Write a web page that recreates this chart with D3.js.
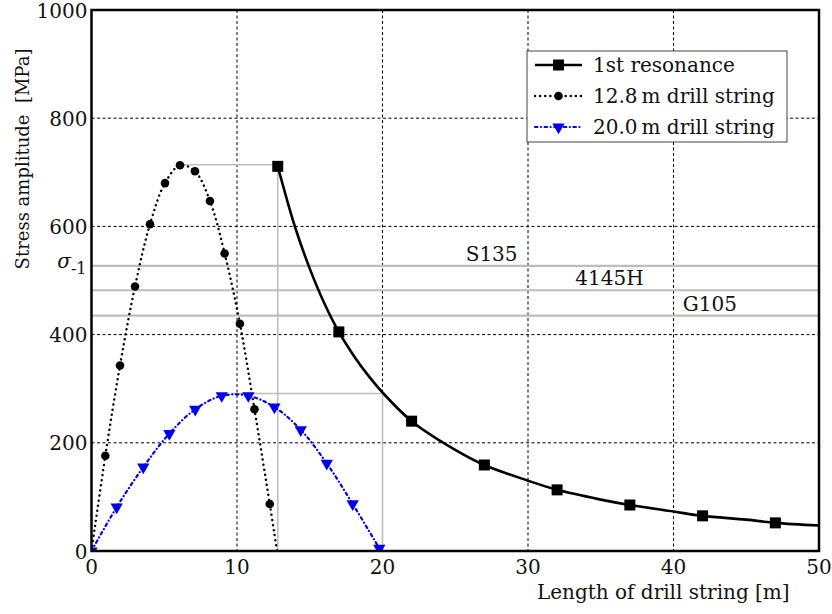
<!DOCTYPE html>
<html>
<head>
<meta charset="utf-8">
<title>Stress amplitude vs length of drill string</title>
<style>
  body { margin: 0; background: #fff; }
  text { font-family: "DejaVu Serif", "Liberation Serif", serif; fill: #111; }
  .grid line { stroke: #000; stroke-width: 1; stroke-dasharray: 3,2.5; }
  .limit { stroke: #bdbdbd; stroke-width: 2.2; }
  .guide { stroke: #bdbdbd; stroke-width: 1.6; }
  .line { fill: none; }
</style>
</head>
<body>
<svg width="832" height="614"></svg>
<script src="https://cdn.jsdelivr.net/npm/d3@7/dist/d3.min.js"></script>
<script>
// 1st resonance: markers and the smooth curve through read points
var resX = [12.8, 17, 22, 27, 32, 37, 42, 47];
var resY = [711, 405, 240, 159, 113, 85, 65, 52];
var resCurveX = [12.8, 14, 15, 16, 17, 18, 19, 20, 22, 25, 27, 30, 32, 35, 37, 40, 42, 45, 47, 50];
var resCurveY = [711, 598, 522, 458, 405, 362, 325, 293, 240, 187, 159, 130, 113, 95, 85, 73, 65, 58, 52, 47];

// 12.8 m drill string
var s128X = [0.95, 1.96, 2.99, 4.02, 5.05, 6.08, 7.11, 8.14, 9.15, 10.2, 11.2, 12.25];
var s128Y = [176, 343, 489, 604, 680, 713, 702, 647, 550, 420, 262, 87];
var s128Start = [0, 0], s128End = [12.75, 0];

// 20.0 m drill string
var s200X = [0, 1.73, 3.56, 5.35, 7.13, 8.95, 10.78, 12.57, 14.38, 16.17, 17.95, 19.78];
var s200Y = [0, 81, 155, 217, 262, 287, 287, 266, 224, 162, 87, 5];

// material limits
var limitNames = ["S135", "4145H", "G105"];
var limitValues = [527, 482, 435];
var limitLabelX = [27.5, 35.6, 42.5];

// gray guide lines from the peaks
var guides = [
  {x1: 6.08, y1: 714, x2: 12.8, y2: 714},
  {x1: 12.8, y1: 714, x2: 12.8, y2: 0},
  {x1: 9.6, y1: 291, x2: 20, y2: 291},
  {x1: 20, y1: 291, x2: 20, y2: 0}
];

var xTicks = [0, 10, 20, 30, 40, 50];
var yTicks = [0, 200, 400, 600, 800, 1000];

var svg = d3.select("svg"),
    margin = {top: 10, left: 91.5, right: 13, bottom: 63},
    width = +svg.attr("width") - margin.left - margin.right,
    height = +svg.attr("height") - margin.top - margin.bottom;

var x = d3.scaleLinear().domain([0, 50]).range([0, width]);
var y = d3.scaleLinear().domain([0, 1000]).range([height, 0]);

var g = svg.append("g").attr("transform", "translate(" + margin.left + "," + margin.top + ")");

svg.append("defs").append("clipPath").attr("id", "plotclip")
  .append("rect").attr("width", width).attr("height", height);

// grid
var grid = g.append("g").attr("class", "grid");
grid.selectAll(".gx").data([10, 20, 30, 40]).enter().append("line")
  .attr("x1", d => x(d)).attr("x2", d => x(d)).attr("y1", 0).attr("y2", height);
grid.selectAll(".gy").data([200, 400, 600, 800]).enter().append("line")
  .attr("y1", d => y(d)).attr("y2", d => y(d)).attr("x1", 0).attr("x2", width);

var plot = g.append("g").attr("clip-path", "url(#plotclip)");

// limit lines
plot.selectAll(".limit").data(limitValues).enter().append("line")
  .attr("class", "limit")
  .attr("x1", 0).attr("x2", width)
  .attr("y1", d => y(d)).attr("y2", d => y(d));

g.selectAll(".limitLabel").data(limitNames).enter().append("text")
  .attr("x", (d, i) => x(limitLabelX[i]))
  .attr("y", (d, i) => y(limitValues[i]) - 5)
  .attr("text-anchor", "middle")
  .style("font-size", "20px")
  .text(d => d);

// guide lines
plot.selectAll(".guide").data(guides).enter().append("line")
  .attr("class", "guide")
  .attr("x1", d => x(d.x1)).attr("y1", d => y(d.y1))
  .attr("x2", d => x(d.x2)).attr("y2", d => y(d.y2));

var line = d3.line()
  .x(d => x(d[0])).y(d => y(d[1]))
  .curve(d3.curveCatmullRom.alpha(0.5));

// 12.8 m
var s128Pts = [s128Start].concat(s128X.map((v, i) => [v, s128Y[i]])).concat([s128End]);
plot.append("path").attr("class", "line")
  .attr("d", line(s128Pts))
  .attr("stroke", "#000").attr("stroke-width", 2.4)
  .attr("stroke-linecap", "round").attr("stroke-dasharray", "0.1,5");
plot.selectAll(".c128").data(s128X).enter().append("circle")
  .attr("cx", d => x(d)).attr("cy", (d, i) => y(s128Y[i])).attr("r", 4.3)
  .attr("fill", "#000");

// 20.0 m
var s200Pts = s200X.map((v, i) => [v, s200Y[i]]);
plot.append("path").attr("class", "line")
  .attr("d", line(s200Pts))
  .attr("stroke", "#0000ee").attr("stroke-width", 2.2)
  .attr("stroke-linecap", "round").attr("stroke-dasharray", "2.5,3.5,0.1,3.5");
var tri = d3.symbol().type(d3.symbolTriangle).size(66);
plot.selectAll(".t200").data(s200X).enter().append("path")
  .attr("d", tri)
  .attr("transform", (d, i) => "translate(" + x(d) + "," + y(s200Y[i]) + ") rotate(180)")
  .attr("fill", "#0000ee");

// 1st resonance
var resPts = resCurveX.map((v, i) => [v, resCurveY[i]]);
plot.append("path").attr("class", "line")
  .attr("d", line(resPts))
  .attr("stroke", "#000").attr("stroke-width", 2.6);
plot.selectAll(".sq").data(resX).enter().append("rect")
  .attr("x", d => x(d) - 5.5).attr("y", (d, i) => y(resY[i]) - 5.5)
  .attr("width", 11).attr("height", 11).attr("fill", "#000");

// frame
g.append("rect").attr("width", width).attr("height", height)
  .attr("fill", "none").attr("stroke", "#000").attr("stroke-width", 2.5);

// tick labels
g.selectAll(".xt").data(xTicks).enter().append("text")
  .attr("x", d => x(d)).attr("y", height + 23)
  .attr("text-anchor", "middle").style("font-size", "20px")
  .text(d => d);
g.selectAll(".yt").data(yTicks).enter().append("text")
  .attr("x", -4).attr("y", d => y(d) + 7.5)
  .attr("text-anchor", "end").style("font-size", "20px")
  .text(d => d);

// sigma_-1 label
var sig = g.append("text").attr("x", -5).attr("y", y(limitValues[0]) + 2)
  .attr("text-anchor", "end").style("font-size", "20px");
sig.append("tspan").style("font-style", "italic").text("σ");
sig.append("tspan").attr("dy", 6).style("font-size", "16px").text("-1");

// axis titles
g.append("text")
  .attr("x", x(39.3)).attr("y", height + 48)
  .attr("text-anchor", "middle").style("font-size", "20px")
  .text("Length of drill string [m]");
svg.append("text")
  .attr("transform", "translate(29,159) rotate(-90)")
  .attr("text-anchor", "middle").style("font-size", "18px")
  .attr("xml:space", "preserve")
  .text("Stress amplitude  [MPa]");

// legend
var legend = svg.append("g").attr("transform", "translate(527,51)");
legend.append("rect").attr("width", 260).attr("height", 91)
  .attr("fill", "#fff").attr("stroke", "#444").attr("stroke-width", 1);
var rows = [
  {label: "1st resonance", dash: null, color: "#000", w: 2.6, mark: "sq"},
  {label: "12.8\u2009m drill string", dash: "0.1,5", color: "#000", w: 2.4, mark: "c"},
  {label: "20.0\u2009m drill string", dash: "2.5,3.5,0.1,3.5", color: "#0000ee", w: 2.2, mark: "t"}
];
rows.forEach(function(r, i) {
  var ly = 14 + i * 31;
  legend.append("line").attr("x1", 8).attr("x2", 55).attr("y1", ly).attr("y2", ly)
    .attr("stroke", r.color).attr("stroke-width", r.w)
    .attr("stroke-linecap", r.dash ? "round" : "butt")
    .attr("stroke-dasharray", r.dash);
  if (r.mark === "sq") legend.append("rect").attr("x", 26).attr("y", ly - 5.5).attr("width", 11).attr("height", 11).attr("fill", "#000");
  if (r.mark === "c") legend.append("circle").attr("cx", 31.5).attr("cy", ly).attr("r", 4.3).attr("fill", "#000");
  if (r.mark === "t") legend.append("path").attr("d", tri).attr("transform", "translate(31.5," + ly + ") rotate(180)").attr("fill", "#0000ee");
  legend.append("text").attr("x", 66).attr("y", ly + 7).style("font-size", "20px").text(r.label);
});
</script>
</body>
</html>
